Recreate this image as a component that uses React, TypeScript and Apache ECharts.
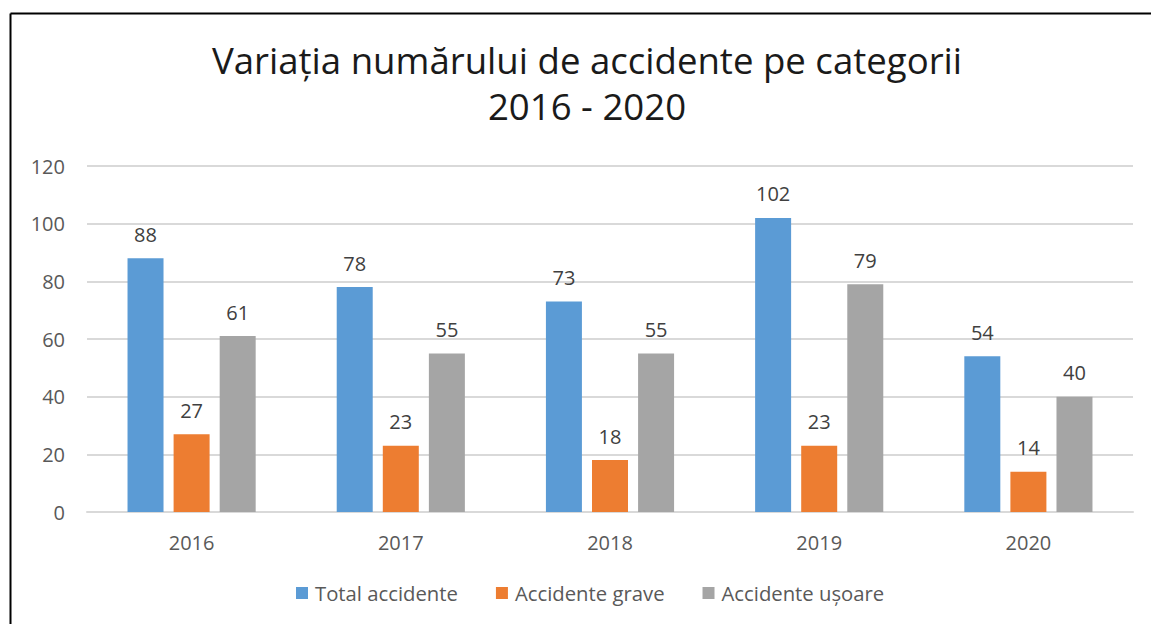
import React, { useEffect, useRef } from "react";
import * as echarts from "echarts";

const categories = ["2016", "2017", "2018", "2019", "2020"];
const totalAccidente = [88, 78, 73, 102, 54];
const accidenteGrave = [27, 23, 18, 23, 14];
const accidenteUsoare = [61, 55, 55, 79, 40];
const seriesNames = ["Total accidente", "Accidente grave", "Accidente ușoare"];
const colors = ["#5B9BD5", "#ED7D31", "#A5A5A5"];
const titleLine1 = "Variația numărului de accidente pe categorii";
const titleLine2 = "2016 - 2020";

const FONT = "'Open Sans', sans-serif";

export default function App() {
  const ref = useRef<HTMLDivElement>(null);
  useEffect(() => {
    if (!ref.current) return;
    const chart = echarts.init(ref.current, null, { renderer: "svg" });
    const mk = (name: string, data: number[], color: string) => ({
      name,
      type: "bar",
      data,
      barWidth: 36,
      barGap: "28%",
      itemStyle: { color },
      label: {
        show: true,
        position: "top",
        distance: 14,
        color: "#404040",
        fontSize: 20,
        fontFamily: FONT,
      },
    });
    const titleStyle = {
      fontFamily: FONT,
      fontSize: 36.6,
      fontWeight: "normal",
      color: "#1a1a1a",
      lineHeight: 40,
    };
    chart.setOption({
      animation: false,
      backgroundColor: "#ffffff",
      title: [
        { text: titleLine1, left: 587, textAlign: "center", top: 40, padding: 0, textStyle: titleStyle },
        { text: titleLine2, left: 587, textAlign: "center", top: 85.5, padding: 0, textStyle: titleStyle },
      ],
      legend: {
        data: seriesNames,
        left: 291,
        top: 578,
        icon: "rect",
        itemWidth: 12,
        itemHeight: 12,
        itemGap: 38,
        textStyle: { fontFamily: FONT, fontSize: 20.3, color: "#595959", padding: [0, 0, 0, 2] },
      },
      grid: { left: 87, right: 18, top: 166, bottom: 112, containLabel: false },
      xAxis: {
        type: "category",
        data: categories,
        axisLine: { lineStyle: { color: "#D9D9D9", width: 2 } },
        axisTick: { show: false },
        axisLabel: { fontFamily: FONT, fontSize: 20, color: "#595959", margin: 20 },
      },
      yAxis: {
        type: "value",
        min: 0,
        max: 120,
        interval: 20,
        axisLine: { show: false },
        axisTick: { show: false },
        splitLine: { lineStyle: { color: "#D9D9D9", width: 2 } },
        axisLabel: { fontFamily: FONT, fontSize: 20, color: "#595959", margin: 22 },
      },
      graphic: [
        { type: "line", shape: { x1: 10.5, y1: 13.5, x2: 1151, y2: 13.5 }, style: { stroke: "#000", lineWidth: 2 } },
        { type: "line", shape: { x1: 10.5, y1: 13.5, x2: 10.5, y2: 624 }, style: { stroke: "#000", lineWidth: 2 } },
      ],
      series: [
        mk(seriesNames[0], totalAccidente, colors[0]),
        mk(seriesNames[1], accidenteGrave, colors[1]),
        mk(seriesNames[2], accidenteUsoare, colors[2]),
      ],
    });
    return () => chart.dispose();
  }, []);
  return (
    <div
      ref={ref}
      style={{ position: "fixed", left: 0, top: 0, width: 1151, height: 624 }}
    />
  );
}
